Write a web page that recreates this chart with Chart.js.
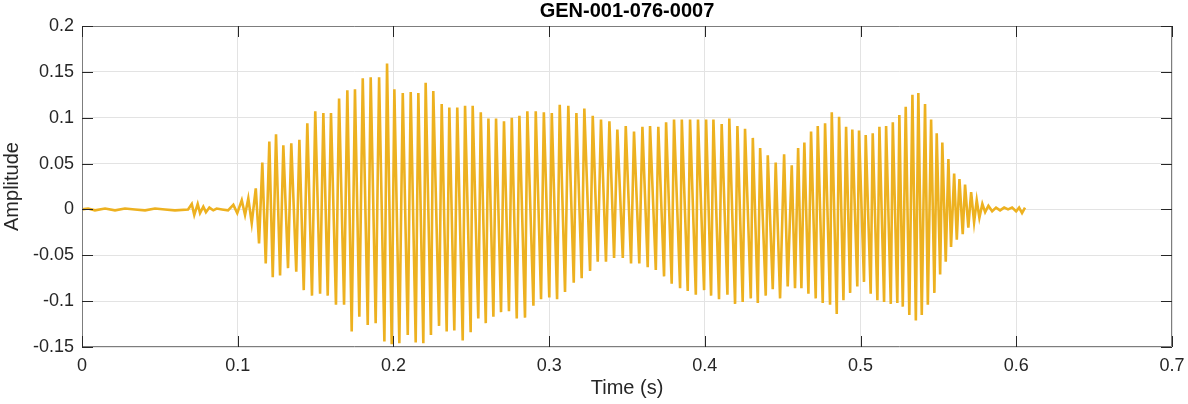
<!DOCTYPE html>
<html>
<head>
<meta charset="utf-8">
<script src="https://cdn.jsdelivr.net/npm/chart.js@4.4.1/dist/chart.umd.min.js"></script>
<style>
  html, body { margin: 0; padding: 0; background: #fff; }
  #wave { display: block; }
</style>
</head>
<body>
<canvas id="wave" width="1188" height="404"></canvas>
<script>
// Waveform peaks/troughs (time in s, amplitude)
const times = [
  0.0000,0.0039,0.0083,0.0148,0.0212,0.0276,0.0340,0.0405,0.0469,0.0533,0.0597,0.0681,
  0.0705,0.0721,0.0743,0.0758,0.0779,0.0796,0.0818,0.0843,0.0865,0.0899,0.0938,
  0.0972,0.0997,0.1026,0.1047,0.1068,0.1090,0.1116,0.1137,
  0.1158,0.1180,0.1203,0.1225,0.1246,0.1272,0.1293,0.1323,0.1344,0.1376,0.1396,0.1424,0.1447,0.1477,0.1498,0.1529,0.1550,0.1578,
  0.1599,0.1631,0.1651,0.1683,0.1704,0.1732,0.1753,0.1781,0.1803,0.1835,0.1854,0.1886,0.1908,0.1942,0.1959,0.1989,0.2006,0.2038,0.2060,0.2092,0.2111,0.2143,0.2160,0.2192,
  0.2207,0.2241,0.2256,0.2293,0.2310,0.2342,0.2359,0.2391,0.2410,0.2445,0.2460,0.2496,0.2509,0.2545,0.2561,0.2593,0.2610,0.2642,0.2659,0.2691,0.2710,0.2742,0.2760,0.2792,0.2809,
  0.2845,0.2860,0.2899,0.2914,0.2948,0.2966,0.3001,0.3017,0.3051,0.3068,0.3102,0.3123,0.3158,0.3175,0.3209,0.3226,0.3263,0.3280,0.3312,0.3333,0.3365,0.3387,0.3417,
  0.3438,0.3473,0.3492,0.3526,0.3545,0.3579,0.3599,0.3633,0.3648,0.3685,0.3701,0.3738,0.3751,0.3787,0.3802,0.3841,0.3852,0.3890,0.3905,0.3942,0.3956,0.3995,0.4008,
  0.4040,0.4055,0.4091,0.4108,0.4145,0.4157,0.4194,0.4209,0.4243,0.4258,0.4295,0.4308,0.4340,0.4355,0.4391,0.4404,0.4436,0.4455,0.4483,0.4509,0.4532,0.4558,0.4579,0.4599,0.4620,0.4639,
  0.4665,0.4682,0.4712,0.4725,0.4757,0.4772,0.4804,0.4815,0.4847,0.4862,0.4890,0.4907,0.4933,0.4947,0.4979,0.4990,0.5022,0.5033,0.5065,0.5078,0.5108,0.5121,0.5151,0.5164,0.5194,0.5207,0.5236,0.5249,
  0.5271,0.5290,0.5313,0.5333,0.5355,0.5371,0.5393,0.5414,0.5432,0.5453,0.5474,0.5489,0.5511,0.5525,0.5547,0.5564,0.5581,0.5601,0.5618,0.5635,0.5656,0.5671,0.5692,0.5710,0.5729,0.5746,0.5763,0.5782,0.5800,0.5821,
  0.5845,0.5870,0.5896,0.5922,0.5947,0.5973,0.5999,0.6018,0.6037,0.6056
];
const amplitudes = [
  0,0.001,-0.001,0.001,-0.001,0.001,0,-0.001,0.001,0,-0.001,0,
  0.006,-0.006,0.006,-0.004,0.003,-0.003,0.002,-0.001,0.001,0,-0.001,
  0.005,-0.004,0.010,-0.006,0.012,-0.015,0.023,-0.037,
  0.051,-0.059,0.074,-0.074,0.082,-0.072,0.070,-0.064,0.072,-0.068,0.076,-0.088,0.094,-0.094,0.107,-0.092,0.105,-0.094,
  0.105,-0.104,0.121,-0.104,0.130,-0.133,0.131,-0.117,0.143,-0.126,0.144,-0.124,0.144,-0.144,0.159,-0.147,0.131,-0.146,0.127,-0.137,0.128,-0.145,0.127,-0.146,
  0.138,-0.137,0.129,-0.127,0.115,-0.133,0.111,-0.132,0.111,-0.143,0.113,-0.134,0.113,-0.119,0.106,-0.124,0.099,-0.117,0.099,-0.112,0.096,-0.111,0.100,-0.119,0.102,
  -0.118,0.107,-0.105,0.107,-0.098,0.106,-0.096,0.105,-0.098,0.114,-0.090,0.113,-0.080,0.105,-0.075,0.110,-0.067,0.102,-0.057,0.098,-0.057,0.096,-0.053,
  0.087,-0.053,0.091,-0.059,0.085,-0.059,0.090,-0.063,0.091,-0.066,0.090,-0.073,0.095,-0.081,0.098,-0.086,0.098,-0.089,0.098,-0.093,0.098,-0.088,0.098,
  -0.094,0.098,-0.098,0.093,-0.093,0.099,-0.103,0.091,-0.101,0.088,-0.097,0.078,-0.102,0.067,-0.094,0.059,-0.087,0.051,-0.097,0.060,-0.084,0.048,-0.086,0.067,-0.086,0.073,
  -0.092,0.085,-0.097,0.091,-0.102,0.094,-0.104,0.106,-0.114,0.101,-0.099,0.090,-0.091,0.087,-0.084,0.086,-0.079,0.081,-0.092,0.083,-0.099,0.090,-0.101,0.091,-0.103,0.095,-0.102,0.103,
  -0.106,0.112,-0.115,0.125,-0.121,0.127,-0.115,0.115,-0.104,0.098,-0.091,0.083,-0.071,0.073,-0.057,0.055,-0.041,0.039,-0.033,0.033,-0.027,0.027,-0.020,0.019,-0.014,0.010,-0.009,0.006,-0.003,0.004,
  -0.002,0.002,-0.001,0.002,0,0.002,-0.002,0.002,-0.004,0.002
];

// Tick labels
const xTicks = [0, 0.1, 0.2, 0.3, 0.4, 0.5, 0.6, 0.7];
const yTicks = [-0.15, -0.1, -0.05, 0, 0.05, 0.1, 0.15, 0.2];

const chartTitle = 'GEN-001-076-0007';
const xLabel = 'Time (s)';
const yLabel = 'Amplitude';

const fontFamily = "'Liberation Sans', Arial, sans-serif";
const axisColor = '#7d7d7d';
const textColor = '#262626';

// MATLAB-style box: title, frame and inward ticks on all four sides
const matlabBox = {
    id: 'matlabBox',
    afterDraw(chart) {
        const { ctx, chartArea: a, scales } = chart;
        const tick = 11;
        ctx.save();
        ctx.strokeStyle = axisColor;
        ctx.lineWidth = 1;
        ctx.beginPath();
        ctx.rect(a.left + 0.5, a.top + 0.5, a.right - a.left - 1, a.bottom - a.top - 1);
        ctx.stroke();
        ctx.strokeStyle = '#262626';
        ctx.beginPath();
        xTicks.forEach(v => {
            const x = Math.round(scales.x.getPixelForValue(v)) + 0.5;
            ctx.moveTo(x, a.bottom); ctx.lineTo(x, a.bottom - tick);
            ctx.moveTo(x, a.top); ctx.lineTo(x, a.top + tick);
        });
        yTicks.forEach(v => {
            const y = Math.round(scales.y.getPixelForValue(v)) + 0.5;
            ctx.moveTo(a.left, y); ctx.lineTo(a.left + tick, y);
            ctx.moveTo(a.right, y); ctx.lineTo(a.right - tick, y);
        });
        ctx.stroke();

        ctx.fillStyle = '#000';
        ctx.font = 'bold 20px ' + fontFamily;
        ctx.textAlign = 'center';
        ctx.textBaseline = 'middle';
        ctx.fillText(chartTitle, (a.left + a.right) / 2, 11);
        ctx.restore();
    }
};

new Chart(document.getElementById('wave'), {
    type: 'line',
    data: {
        datasets: [{
            data: times.map((t, i) => ({ x: t, y: amplitudes[i] })),
            borderColor: '#EDB120',
            borderWidth: 2.6,
            pointRadius: 0,
            tension: 0,
            fill: false
        }]
    },
    options: {
        responsive: false,
        animation: false,
        devicePixelRatio: 1,
        layout: { padding: { top: 26, right: 16, left: 0, bottom: 0 } },
        plugins: { legend: { display: false }, tooltip: { enabled: false } },
        scales: {
            x: {
                type: 'linear',
                min: 0, max: 0.7,
                afterBuildTicks: s => { s.ticks = xTicks.map(v => ({ value: v })); },
                afterFit: s => { s.height = 57; s.paddingLeft = 0; s.paddingRight = 0; },
                grid: { color: '#e3e3e3', drawTicks: false },
                border: { display: false },
                ticks: {
                    padding: 8,
                    color: textColor,
                    font: { family: fontFamily, size: 18 },
                    maxRotation: 0,
                    callback: v => String(v)
                },
                title: {
                    display: true,
                    text: xLabel,
                    color: textColor,
                    font: { family: fontFamily, size: 20 },
                    padding: { top: 0, bottom: 4 }
                }
            },
            y: {
                min: -0.15, max: 0.2,
                afterBuildTicks: s => { s.ticks = yTicks.map(v => ({ value: v })); },
                afterFit: s => { s.width = 82; s.paddingTop = 0; s.paddingBottom = 0; },
                grid: { color: '#e3e3e3', drawTicks: false },
                border: { display: false },
                ticks: {
                    padding: 8,
                    color: textColor,
                    font: { family: fontFamily, size: 18 },
                    callback: v => String(v)
                },
                title: {
                    display: true,
                    text: yLabel,
                    color: textColor,
                    font: { family: fontFamily, size: 20 },
                    padding: 0
                }
            }
        }
    },
    plugins: [matlabBox]
});
</script>
</body>
</html>
